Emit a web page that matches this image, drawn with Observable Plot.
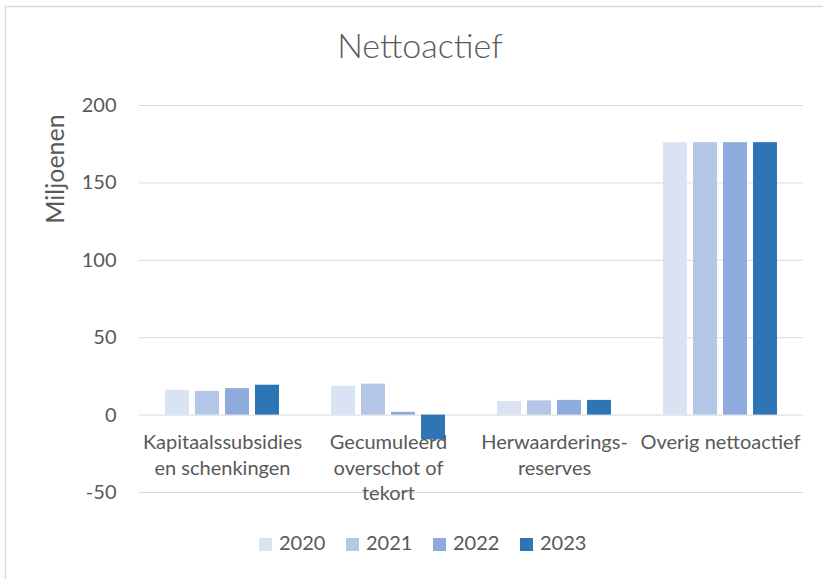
<!DOCTYPE html>
<html>
<head>
<meta charset="utf-8">
<script src="https://cdn.jsdelivr.net/npm/d3@7"></script>
<script src="https://cdn.jsdelivr.net/npm/@observablehq/plot@0.6"></script>
<style>
  html, body { margin: 0; padding: 0; background: #fff; }
  #chart { width: 823px; height: 579px; overflow: hidden; }
</style>
</head>
<body>
<div id="chart"></div>
<script>
const categories = [
  "Kapitaalssubsidies\nen schenkingen",
  "Gecumuleerd\noverschot of\ntekort",
  "Herwaarderings-\nreserves",
  "Overig nettoactief"
];
const years = ["2020", "2021", "2022", "2023"];
const values2020 = [16, 18.6, 8.7, 176];
const values2021 = [15.3, 20, 9.2, 176];
const values2022 = [17.1, 1.8, 9.5, 176];
const values2023 = [19.3, -16, 9.5, 176];
const yTicks = [-50, 0, 50, 100, 150, 200];
const colors = ["#dae3f3", "#b4c7e7", "#8faadc", "#2e75b6"];

const series = [values2020, values2021, values2022, values2023];
const data = categories.flatMap((c, i) =>
  years.map((y, j) => ({cat: c, year: y, value: series[j][i]}))
);

const FONT = "Lato, 'Open Sans', sans-serif";
const TXT = "#595959";

const plot = Plot.plot({
  width: 823,
  height: 579,
  marginLeft: 138,
  marginRight: 20,
  marginTop: 105,
  marginBottom: 87,
  style: {fontFamily: FONT, fontSize: "20px", color: TXT, background: "white", overflow: "visible"},
  fx: {domain: categories, padding: 0, axis: null, label: null},
  x: {domain: years, paddingInner: 0.2, paddingOuter: 0.84, axis: null, label: null},
  y: {domain: [-50, 200], ticks: yTicks, tickSize: 0, tickPadding: 23, tickFormat: d => String(d), label: null},
  color: {domain: years, range: colors},
  marks: [
    Plot.ruleY(yTicks, {stroke: "#d9d9d9", strokeWidth: 1}),
    Plot.barY(data, {fx: "cat", x: "year", y: "value", fill: "year"}),
    Plot.text(categories, {
      fx: d => d, y: () => 0, text: d => d,
      lineAnchor: "top", dy: 16, lineHeight: 1.28,
      fontSize: 20, fill: TXT, fontFamily: FONT
    })
  ]
});

document.getElementById("chart").appendChild(plot);
const svg = d3.select(plot);

// chart border
svg.insert("rect", ":first-child")
  .attr("x", 5.5).attr("y", 6.5).attr("width", 830).attr("height", 600)
  .attr("fill", "none").attr("stroke", "#d9d9d9").attr("stroke-width", 1.5);

// title
svg.append("text")
  .attr("x", 420).attr("y", 50)
  .attr("text-anchor", "middle").attr("dominant-baseline", "middle")
  .attr("font-family", FONT).attr("font-size", 34).attr("font-weight", 300).attr("fill", TXT)
  .text("Nettoactief");

// y-axis title
svg.append("text")
  .attr("transform", "translate(64,169) rotate(-90)")
  .attr("text-anchor", "middle")
  .attr("font-family", FONT).attr("font-size", 25).attr("fill", TXT)
  .text("Miljoenen");

// legend
const color = plot.scale("color");
const lg = svg.append("g").attr("text-anchor", "start");
years.forEach((y, i) => {
  const x0 = 259 + i * 87;
  lg.append("rect").attr("x", x0).attr("y", 538).attr("width", 13).attr("height", 13)
    .attr("fill", color.range[i]);
  lg.append("text").attr("x", x0 + 20).attr("y", 545)
    .attr("text-anchor", "start")
    .attr("dominant-baseline", "middle")
    .attr("font-family", FONT).attr("font-size", 20).attr("fill", TXT)
    .text(y);
});
</script>
</body>
</html>
